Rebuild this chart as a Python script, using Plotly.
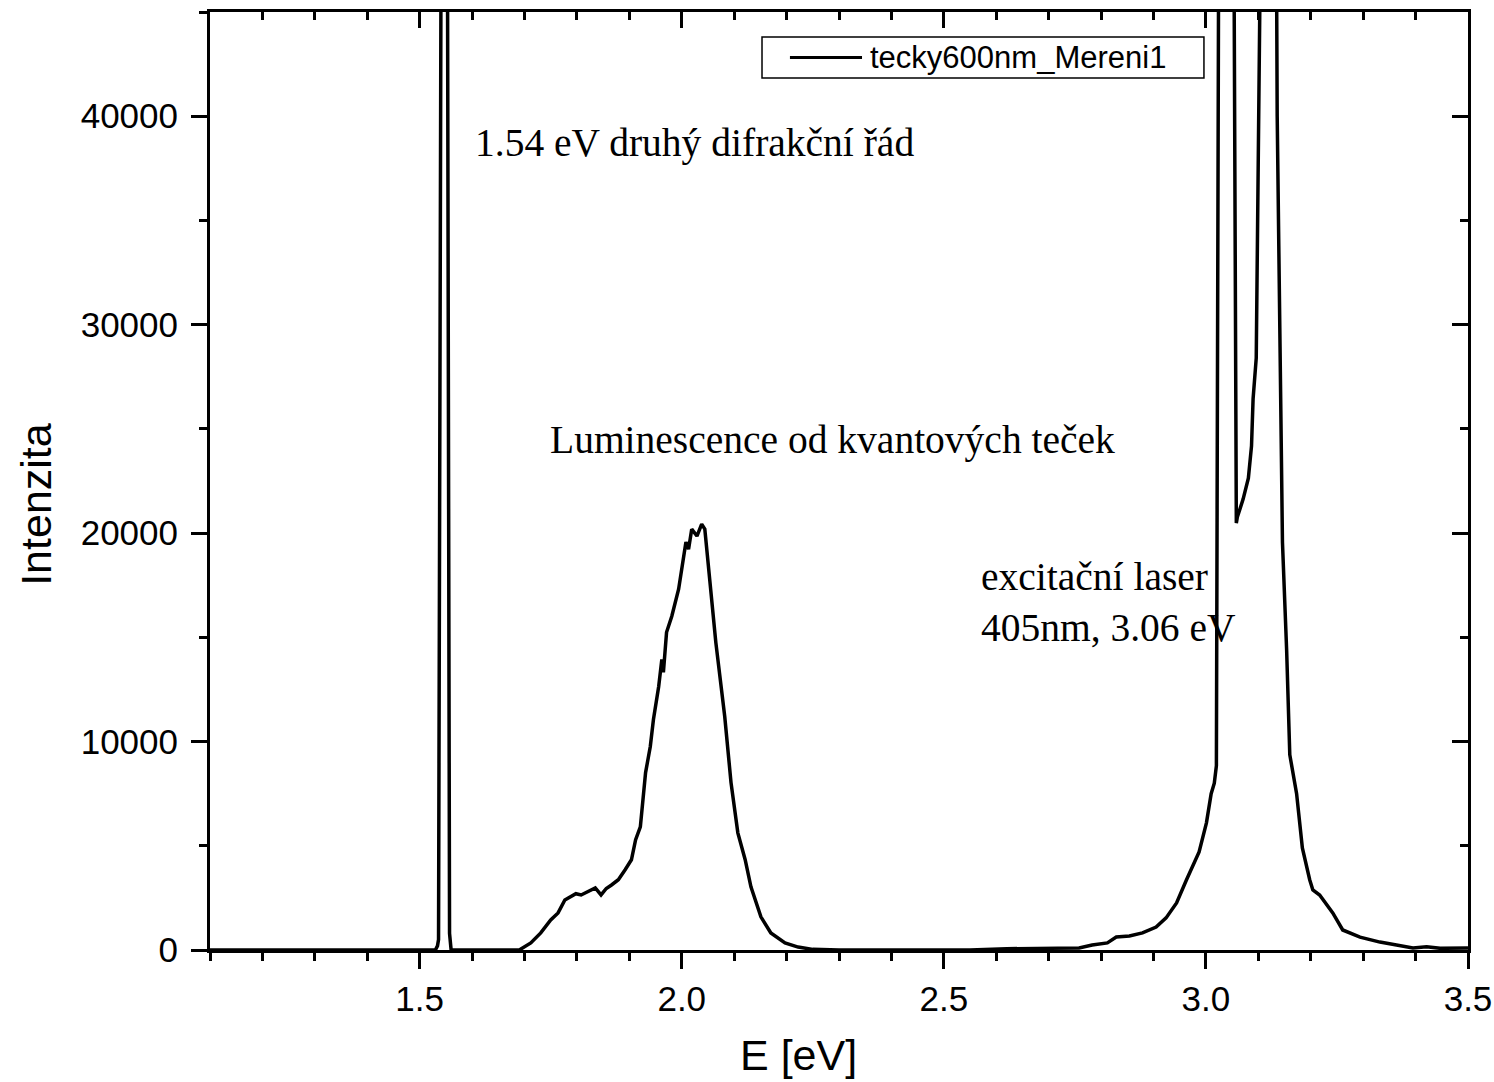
import plotly.graph_objects as go

# baseline left of the diffraction peak
e_base = [1.10, 1.30, 1.50, 1.530]
i_base = [0, 0, 0, 0]

# 1.54 eV second diffraction order (goes off scale)
e_diff = [1.534, 1.536, 1.542, 1.552, 1.557, 1.560]
i_diff = [200, 500, 60000, 60000, 800, 0]

# quantum dot luminescence
e_lum = [1.60, 1.69, 1.712, 1.731, 1.750, 1.764, 1.777, 1.789, 1.798, 1.808,
         1.820, 1.835, 1.846, 1.856, 1.866, 1.879, 1.892, 1.904, 1.912, 1.921,
         1.931, 1.940, 1.946, 1.956, 1.962, 1.965, 1.971, 1.981, 1.994, 2.000,
         2.008, 2.013, 2.019, 2.029, 2.038, 2.044, 2.050, 2.056, 2.065, 2.082,
         2.094, 2.107, 2.121, 2.132, 2.151, 2.170, 2.197, 2.222, 2.25, 2.30]
i_lum = [0, 0, 340, 820, 1440, 1780, 2400, 2550, 2700, 2640,
         2800, 2980, 2640, 2950, 3120, 3370, 3850, 4330, 5290, 5910,
         8510, 9760, 11060, 12640, 13940, 13320, 15240, 16010, 17310, 18410,
         19570, 19230, 20190, 19860, 20430, 20190, 18750, 16970, 14760, 11200,
         8030, 5620, 4330, 3030, 1590, 820, 340, 140, 30, 0]

# flat region and rising laser wing
e_mid = [2.40, 2.55, 2.62, 2.70, 2.758, 2.783, 2.812, 2.829, 2.854, 2.879,
         2.905, 2.924, 2.944, 2.963, 2.987, 3.001, 3.010, 3.016, 3.020]
i_mid = [0, 0, 60, 90, 100, 240, 340, 620, 670, 820,
         1100, 1540, 2260, 3370, 4700, 6100, 7500, 8000, 8840]

# excitation laser 405 nm (double peak, off scale)
e_laser = [3.030, 3.045, 3.058, 3.060, 3.071, 3.081, 3.087, 3.090, 3.096,
           3.104, 3.125, 3.136, 3.146, 3.154, 3.160, 3.173, 3.184, 3.198,
           3.204, 3.217, 3.242, 3.261, 3.294, 3.332, 3.395, 3.421, 3.447, 3.50]
i_laser = [100000, 100000, 20480, 20770, 21630, 22640, 24180, 26440, 28400,
           100000, 100000, 40000, 19570, 14380, 9370, 7500, 4900, 3370,
           2880, 2640, 1780, 960, 620, 380, 100, 150, 80, 100]

energy = e_base + e_diff + e_lum + e_mid + e_laser
intensity = i_base + i_diff + i_lum + i_mid + i_laser

series_name = 'tecky600nm_Mereni1'

sans = "Liberation Sans, Arial, sans-serif"
serif = "Liberation Serif, Times New Roman, serif"

fig = go.Figure()
fig.add_trace(go.Scatter(x=energy, y=intensity, mode='lines',
                         name=series_name, showlegend=False,
                         line=dict(color='black', width=3.5)))

axis_common = dict(showline=True, linecolor='black', linewidth=3,
                   showgrid=False, zeroline=False, automargin=False,
                   ticklen=16, tickwidth=3, tickcolor='black')

fig.update_layout(
    width=1494, height=1082, autosize=False,
    margin=dict(l=210, r=26, t=12, b=132),
    paper_bgcolor='white', plot_bgcolor='white',
    font=dict(family=sans, color='black'),
    xaxis=dict(range=[1.1, 3.5], dtick=0.5, tick0=0, tickformat='.1f',
               ticks='outside', tickfont=dict(size=35),
               minor=dict(dtick=0.1, ticklen=8, tickwidth=3,
                          ticks='outside', tickcolor='black'),
               **axis_common),
    xaxis2=dict(range=[1.1, 3.5], dtick=0.5, tick0=0, overlaying='x',
                side='top', anchor='y', ticks='inside',
                showticklabels=False,
                minor=dict(dtick=0.1, ticklen=8, tickwidth=3,
                           ticks='inside', tickcolor='black'),
                **axis_common),
    yaxis=dict(range=[0, 45000], dtick=10000, tick0=0, tickformat='d',
               ticks='outside', tickfont=dict(size=35), ticklabelstandoff=6,
               minor=dict(dtick=5000, ticklen=8, tickwidth=3,
                          ticks='outside', tickcolor='black'),
               **axis_common),
    yaxis2=dict(range=[0, 45000], dtick=10000, tick0=0, overlaying='y',
                side='right', anchor='x', ticks='inside',
                showticklabels=False,
                minor=dict(dtick=5000, ticklen=8, tickwidth=3,
                           ticks='inside', tickcolor='black'),
                **axis_common),
)

# invisible trace so the mirrored axes are drawn
fig.add_trace(go.Scatter(x=[1.1], y=[0], xaxis='x2', yaxis='y2',
                         mode='lines', showlegend=False, hoverinfo='skip',
                         line=dict(color='rgba(0,0,0,0)')))

# axis titles (sit slightly off-centre in the original)
fig.add_annotation(text='E [eV]', xref='paper', yref='paper',
                   x=0.468, y=-0.112, showarrow=False,
                   xanchor='center', yanchor='middle',
                   font=dict(family=sans, size=43))
fig.add_annotation(text='Intenzita', xref='paper', yref='paper',
                   x=-0.138, y=0.475, showarrow=False, textangle=-90,
                   xanchor='center', yanchor='middle',
                   font=dict(family=sans, size=43))

# legend box drawn by hand so the sample line is long like the original
fig.add_shape(type='rect', xref='paper', yref='paper',
              x0=0.4388, x1=0.7901, y0=0.9296, y1=0.9733,
              line=dict(color='black', width=1.5), fillcolor='white')
fig.add_shape(type='line', xref='paper', yref='paper',
              x0=0.4610, x1=0.5183, y0=0.9515, y1=0.9515,
              line=dict(color='black', width=3))
fig.add_annotation(text=series_name, xref='paper', yref='paper',
                   x=0.5231, y=0.9515, showarrow=False,
                   xanchor='left', yanchor='middle',
                   font=dict(family=sans, size=31))

notes = [
    (1.601, 38700, '1.54 eV druhý difrakční řád'),
    (1.745, 24470, 'Luminescence od kvantových teček'),
    (2.567, 16680, 'excitační laser<br>405nm, 3.06 eV'),
]
for x, y, txt in notes:
    fig.add_annotation(x=x, y=y, text=txt, showarrow=False,
                       xanchor='left', yanchor='middle', align='left',
                       font=dict(family=serif, size=39.5, color='black'))

# drop the default page margin so the figure fills the window exactly
fig.write_html("out.html",
               config={'responsive': False, 'displayModeBar': False},
               post_script="document.body.style.margin='0';")
